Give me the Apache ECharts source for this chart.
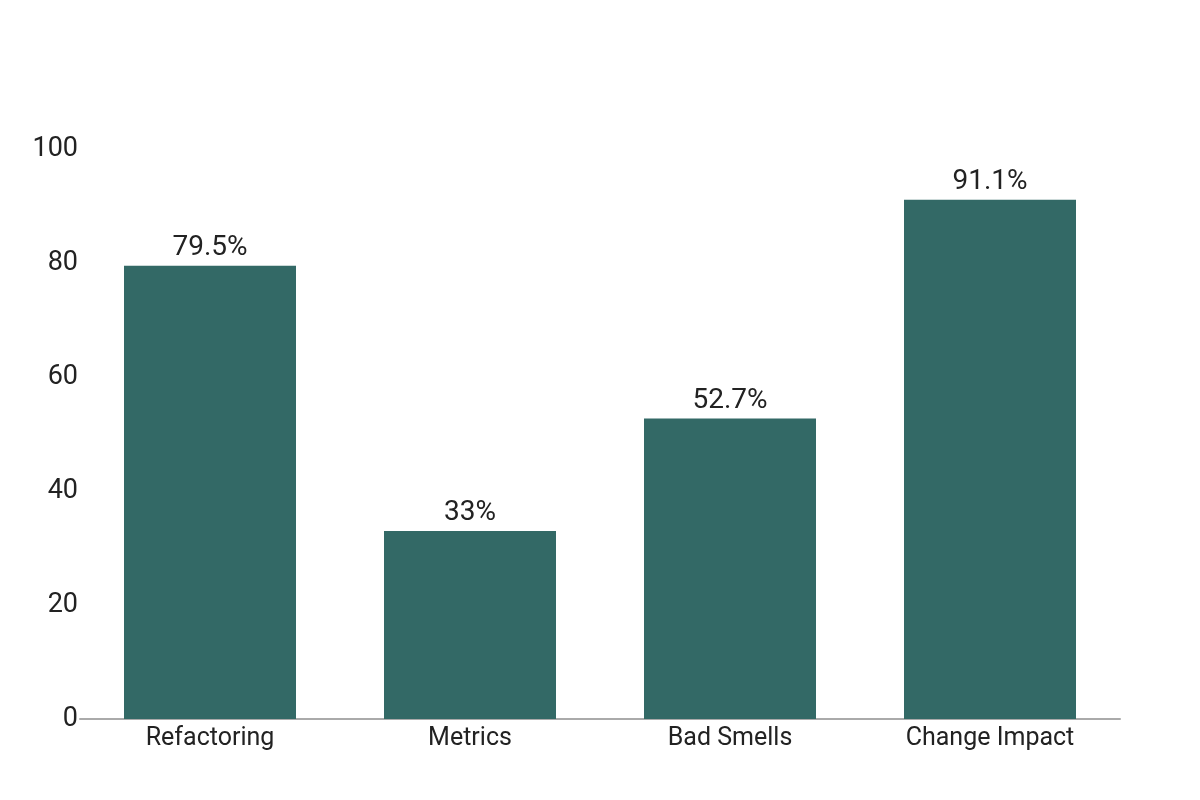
<!DOCTYPE html>
<html>
<head>
<meta charset="utf-8">
<script src="https://cdn.jsdelivr.net/npm/echarts@6/dist/echarts.min.js"></script>
<style>
  html, body { margin: 0; padding: 0; background: #fff; }
  #chart { width: 1200px; height: 800px; }
</style>
</head>
<body>
<div id="chart"></div>
<script>
  // data
  const categories = ["Refactoring", "Metrics", "Bad Smells", "Change Impact"];
  const values = [79.5, 33, 52.7, 91.1];
  const valueLabels = ["79.5%", "33%", "52.7%", "91.1%"];

  const chart = echarts.init(document.getElementById("chart"), null, { renderer: "canvas" });

  chart.setOption({
    animation: false,
    grid: {
      left: 80,
      right: 80,
      top: 149,
      bottom: 81,
    },
    xAxis: {
      type: "category",
      data: categories,
      axisLine: { lineStyle: { color: "#aaaaaa", width: 2 } },
      axisTick: { show: false },
      axisLabel: {
        color: "#222",
        fontSize: 25,
        fontFamily: "Roboto",
        margin: 7,
      },
    },
    yAxis: {
      type: "value",
      min: 0,
      max: 100,
      interval: 20,
      splitLine: { show: false },
      axisLine: { show: false },
      axisTick: { show: false },
      axisLabel: {
        color: "#222",
        fontSize: 27,
        fontFamily: "Roboto",
        margin: 2,
        padding: [3, 0, 0, 0],
      },
    },
    series: [
      {
        type: "bar",
        data: values,
        barWidth: 172,
        itemStyle: { color: "#336966" },
        label: {
          show: true,
          position: "top",
          distance: 4,
          color: "#222",
          fontSize: 28,
          fontFamily: "Roboto",
          formatter: (p) => valueLabels[p.dataIndex],
        },
      },
    ],
  });
</script>
</body>
</html>
